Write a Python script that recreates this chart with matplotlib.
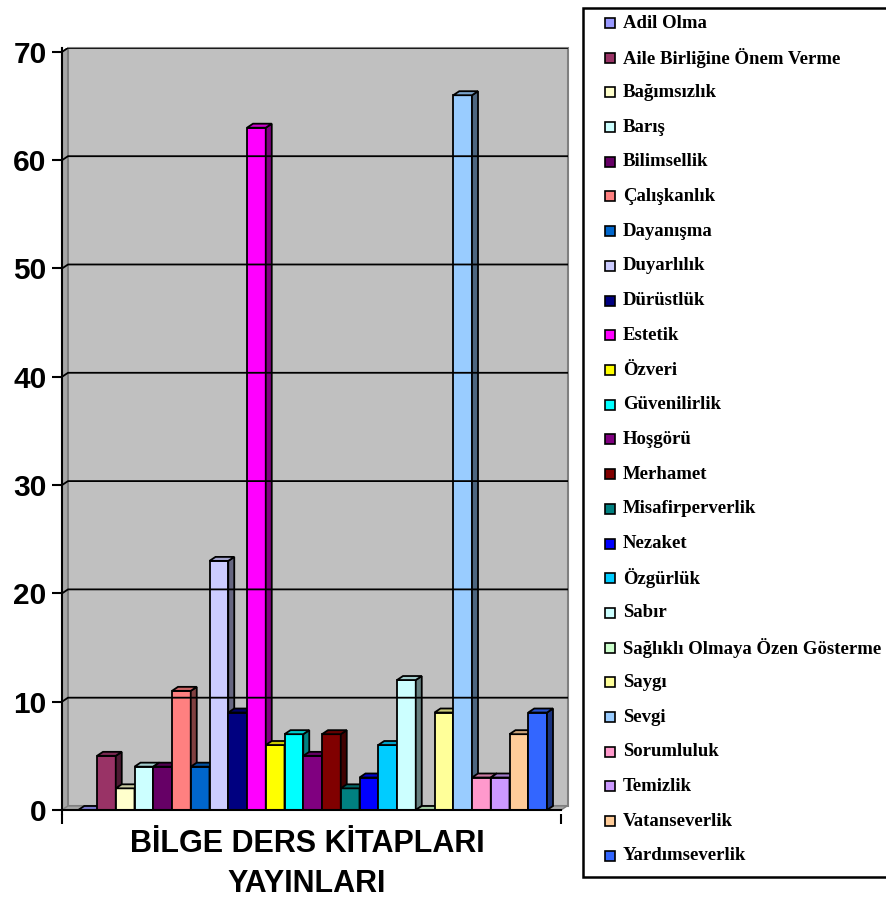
import matplotlib
matplotlib.use("Agg")
import matplotlib.pyplot as plt
from matplotlib.patches import Polygon, Rectangle
from matplotlib.colors import to_rgb
import numpy as np

names = ["Adil Olma", "Aile Birliğine Önem Verme", "Bağımsızlık", "Barış",
         "Bilimsellik", "Çalışkanlık", "Dayanışma", "Duyarlılık", "Dürüstlük",
         "Estetik", "Özveri", "Güvenilirlik", "Hoşgörü", "Merhamet",
         "Misafirperverlik", "Nezaket", "Özgürlük", "Sabır",
         "Sağlıklı Olmaya Özen Gösterme", "Saygı", "Sevgi", "Sorumluluk",
         "Temizlik", "Vatanseverlik", "Yardımseverlik"]
values = [0, 5, 2, 4, 4, 11, 4, 23, 9, 63, 6, 7, 5, 7, 2, 3, 6, 12, 0, 9,
          66, 3, 3, 7, 9]
colors = ["#9999FF", "#993366", "#FFFFCC", "#CCFFFF", "#660066", "#FF8080",
          "#0066CC", "#CCCCFF", "#000080", "#FF00FF", "#FFFF00", "#00FFFF",
          "#800080", "#800000", "#008080", "#0000FF", "#00CCFF", "#CCFFFF",
          "#CCFFCC", "#FFFF99", "#99CCFF", "#FF99CC", "#CC99FF", "#FFCC99",
          "#3366FF"]
yticks = [0, 10, 20, 30, 40, 50, 60, 70]
xlabel = "BİLGE DERS KİTAPLARI\nYAYINLARI"

W, H = 886, 905
fig = plt.figure(figsize=(W / 100, H / 100), dpi=100)

# axes box in pixels (left, right, top, bottom)
L, R, T, B = 62, 568, 48, 814
ax = fig.add_axes([L / W, 1 - B / H, (R - L) / W, (B - T) / H])

xl, xr = -1.3667, 25.62
x_front_r = 25.25
ax.set_xlim(xl, xr)
ax.set_ylim(-0.37, 70.36)
ax.patch.set_visible(False)

dx, dy = 0.32, 0.37   # 3d depth in data units
ymax = yticks[-1]

# walls and floor
ax.add_patch(Polygon([(xl, 0), (xl + dx, dy), (xl + dx, ymax + dy), (xl, ymax)],
                     closed=True, fc="#A6A6A6", ec="#808080", lw=1))
ax.add_patch(Rectangle((xl + dx, dy), xr - xl - dx, ymax, fc="#C0C0C0",
                       ec="#808080", lw=1.5, clip_on=False))
ax.add_patch(Polygon([(xl, 0), (x_front_r, 0), (x_front_r + dx, dy), (xl + dx, dy)],
                     closed=True, fc="#A6A6A6", ec="#808080", lw=1))

# gridlines on back wall
for v in yticks[1:]:
    ax.plot([xl, xl + dx, xr], [v, v + dy, v + dy], color="black", lw=1.3)

# bars with 3d faces
for i, (n, v, c) in enumerate(zip(names, values, colors)):
    rgb = np.array(to_rgb(c))
    ax.bar(i, v, width=1, color=c, edgecolor="black", lw=1.3, label=n)
    x0, x1 = i - 0.5, i + 0.5
    ax.add_patch(Polygon([(x1, 0), (x1 + dx, dy), (x1 + dx, v + dy), (x1, v)],
                         closed=True, fc=rgb * 0.5, ec="black", lw=1.3))
    ax.add_patch(Polygon([(x0, v), (x1, v), (x1 + dx, v + dy), (x0 + dx, v + dy)],
                         closed=True, fc=rgb * 0.8, ec="black", lw=1.3))

# front axis line
ax.plot([xl, x_front_r], [0, 0], color="black", lw=1.5, clip_on=False)

for s in ["top", "right", "bottom"]:
    ax.spines[s].set_visible(False)
ax.spines["left"].set_linewidth(1.5)
ax.set_yticks(yticks)
ax.set_yticklabels([str(t) for t in yticks], fontsize=21.5, fontweight="bold",
                   family="Liberation Sans")
ax.tick_params(axis="y", length=7, width=1.5, pad=4)
ax.set_xticks([xl, x_front_r])
ax.set_xticklabels(["", ""])
ax.tick_params(axis="x", length=7, width=1.5)

fig.text(307 / W, 1 - 864 / H, xlabel, ha="center", va="center", fontsize=22,
         fontweight="bold", family="Liberation Sans", linespacing=1.45)

# legend
fig.add_artist(Rectangle((583 / W, 1 - 877 / H), (900 - 583) / W, (877 - 8) / H,
                         transform=fig.transFigure, fc="white", ec="black",
                         lw=1.8, clip_on=False))
for i, (n, c) in enumerate(zip(names, colors)):
    yc = 23 + i * 34.7
    fig.add_artist(Rectangle((605 / W, 1 - (yc + 5) / H), 10 / W, 10 / H,
                             transform=fig.transFigure, fc=c, ec="black", lw=1.2))
    fig.text(623 / W, 1 - yc / H, n, ha="left", va="center", fontsize=13.5,
             fontweight="bold", family="Liberation Serif")

fig.savefig("out.png", dpi=100)
